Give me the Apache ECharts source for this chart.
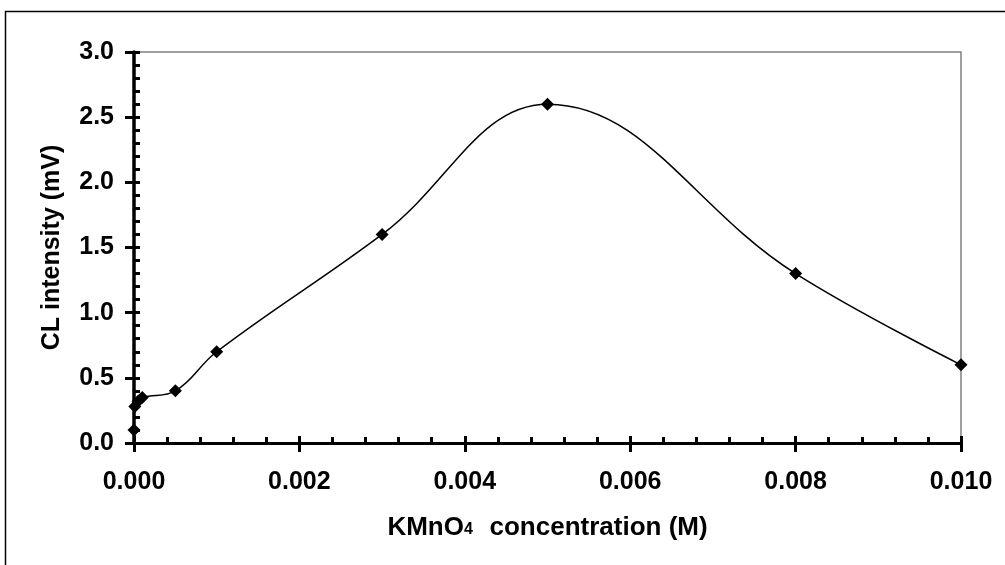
<!DOCTYPE html>
<html>
<head>
<meta charset="utf-8">
<script src="https://cdn.jsdelivr.net/npm/echarts@6/dist/echarts.min.js"></script>
<style>
  html, body { margin: 0; padding: 0; background: #fff; }
  #main { width: 1005px; height: 565px; }
</style>
</head>
<body>
<div id="main"></div>
<script>
// KMnO4 concentration (M) vs CL intensity (mV)
var concentration = [0, 0.00001, 0.00005, 0.0001, 0.0005, 0.001, 0.003, 0.005, 0.008, 0.010];
var intensity     = [0.1, 0.28, 0.32, 0.35, 0.4, 0.7, 1.6, 2.6, 1.3, 0.6];

var xMin = 0, xMax = 0.010, xStep = 0.002;
var yMin = 0, yMax = 3.0, yStep = 0.5;

var points = concentration.map(function (c, i) { return [c, intensity[i]]; });

var labelFont = {
    color: '#000',
    fontFamily: 'Liberation Sans, Arial, sans-serif',
    fontWeight: 'bold',
    fontSize: 25
};

var myChart = echarts.init(document.getElementById('main'));

var option = {
    animation: false,
    backgroundColor: '#fff',
    graphic: [
        {
            type: 'rect',
            shape: { x: 5.5, y: 11.5, width: 1100, height: 700 },
            style: { fill: 'none', stroke: '#000', lineWidth: 1.5 },
            z: 100
        }
    ],
    grid: {
        left: 134,
        right: 44,
        top: 52,
        bottom: 122,
        show: true,
        borderColor: '#808080',
        borderWidth: 1.5,
        backgroundColor: 'transparent'
    },
    xAxis: [
        {
            // main axis: labels + outward ticks
            type: 'value',
            position: 'bottom',
            min: xMin, max: xMax, interval: xStep,
            name: 'KMnO{sub|4}  {gap| }concentration (M)',
            nameLocation: 'middle',
            nameGap: 72,
            nameTextStyle: {
                color: '#000',
                fontFamily: 'Liberation Sans, Arial, sans-serif',
                fontWeight: 'bold',
                fontSize: 26,
                rich: {
                    sub: {
                        fontFamily: 'Liberation Sans, Arial, sans-serif',
                        fontWeight: 'bold',
                        fontSize: 16,
                        verticalAlign: 'bottom',
                        padding: [0, 0, 3, 0]
                    },
                    gap: { fontSize: 8 }
                }
            },
            axisLine: { show: true, lineStyle: { color: '#000', width: 3 } },
            axisTick: { show: true, inside: false, length: 9, lineStyle: { color: '#000', width: 3 } },
            minorTick: { show: true, splitNumber: 5, length: 2, lineStyle: { color: '#000', width: 3 } },
            splitLine: { show: false },
            axisLabel: Object.assign({
                margin: 27,
                formatter: function (v) { return v.toFixed(3); }
            }, labelFont)
        },
        {
            // twin axis: inward ticks only
            type: 'value',
            position: 'bottom',
            min: xMin, max: xMax, interval: xStep,
            axisLine: { show: false },
            axisTick: { show: true, inside: true, length: 7, lineStyle: { color: '#000', width: 3 } },
            minorTick: { show: true, splitNumber: 5, length: 6, lineStyle: { color: '#000', width: 3 } },
            splitLine: { show: false },
            axisLabel: { show: false }
        }
    ],
    yAxis: [
        {
            type: 'value',
            position: 'left',
            min: yMin, max: yMax, interval: yStep,
            name: 'CL intensity (mV)',
            nameLocation: 'middle',
            nameGap: 69,
            nameTextStyle: {
                color: '#000',
                fontFamily: 'Liberation Sans, Arial, sans-serif',
                fontWeight: 'bold',
                fontSize: 25
            },
            axisLine: { show: true, lineStyle: { color: '#000', width: 3.5 } },
            axisTick: { show: true, inside: false, length: 9, lineStyle: { color: '#000', width: 3 } },
            minorTick: { show: false },
            splitLine: { show: false },
            axisLabel: Object.assign({
                margin: 20,
                formatter: function (v) { return v.toFixed(1); }
            }, labelFont)
        },
        {
            type: 'value',
            position: 'left',
            min: yMin, max: yMax, interval: yStep,
            axisLine: { show: false },
            axisTick: { show: true, inside: true, length: 6, lineStyle: { color: '#000', width: 3 } },
            minorTick: { show: true, splitNumber: 5, length: 6, lineStyle: { color: '#000', width: 3 } },
            splitLine: { show: false },
            axisLabel: { show: false }
        }
    ],
    series: [
        {
            type: 'line',
            xAxisIndex: 0,
            yAxisIndex: 0,
            data: points,
            smooth: 0.4,
            symbol: 'diamond',
            symbolSize: 13,
            itemStyle: { color: '#000' },
            lineStyle: { color: '#000', width: 1.5 },
            z: 5
        }
    ]
};

myChart.setOption(option);
</script>
</body>
</html>
